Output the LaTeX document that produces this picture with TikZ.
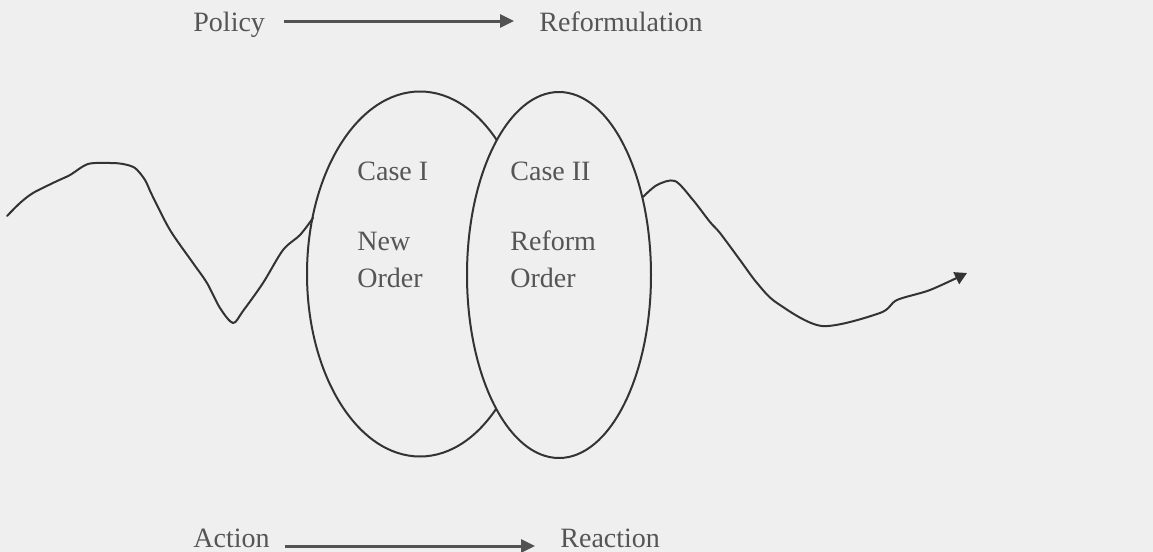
\documentclass[tikz,border=0pt]{standalone}
\usepackage{fontspec}
\setmainfont{Liberation Serif}
\usetikzlibrary{shapes.geometric,arrows.meta}
\definecolor{bg}{HTML}{EFEFEF}
\definecolor{ink}{HTML}{333333}
\definecolor{txt}{HTML}{555555}
\tikzset{
  lbl/.style={inner sep=0pt, text=txt, font=\fontsize{14}{18.5}\selectfont, text height=10pt, text depth=3pt},
  arr/.style={draw=ink!85, line width=1.5pt, -{Triangle[length=7pt,width=6.5pt]}},
  oval/.style={draw=ink, line width=1pt, ellipse, inner sep=0pt, fill=bg},
  wave/.style={draw=ink, line width=1pt, line join=round, line cap=round}
}
\begin{document}
\begin{tikzpicture}[x=0.5pt,y=-0.5pt]
\fill[bg] (0,0) rectangle (1153,552);
\useasboundingbox (0,0) rectangle (1153,552);

% top arrow
\node[lbl, anchor=base west] (policy) at (193,31) {Policy};
\node[lbl, anchor=base west] (reform) at (539,31) {Reformulation};
\draw[arr, shorten <=9.5pt, shorten >=12.5pt] ([yshift=1.5pt]policy.east) -- ([yshift=1.5pt]reform.west);

% ellipses (the second one covers the first)
\node[oval, minimum width=113pt, minimum height=182.5pt] (e1) at (420,274) {};
\node[oval, minimum width=92pt, minimum height=183pt] (e2) at (559,275) {};

% texts inside
\node[lbl, anchor=base west] (case1) at (357,180) {Case I};
\node[lbl, anchor=base west] (case2) at (510,180) {Case II};
\node[lbl, anchor=base west] (new) at (357,250) {New};
\node[lbl, anchor=base west] (order1) at (357,287) {Order};
\node[lbl, anchor=base west] (refo) at (510,250) {Reform};
\node[lbl, anchor=base west] (order2) at (510,287) {Order};

% left wave
\draw[wave] plot[smooth, tension=0.5] coordinates {
 (7,216) (20,203) (33,193) (55,182) (70,175) (88,164) (110,163) (123,164) (135,168) (145,180)
 (152,195) (170,230) (193,263) (207,283) (220,308) (233,323) (243,311) (263,283)
 (283,250) (300,235) (313,218)};

% right wave
\draw[wave, -{Triangle[length=6pt,width=6.5pt]}] plot[smooth, tension=0.5] coordinates {
 (643,197) (657,185) (675,181) (693,200) (710,222) (720,233) (740,260) (757,283)
 (777,303) (822,326) (880,313) (897,300) (930,290) (967,273)};

% bottom arrow
\node[lbl, anchor=base west] (action) at (193,547) {Action};
\node[lbl, anchor=base west] (reaction) at (560,547) {Reaction};
\draw[arr, shorten <=7.5pt, shorten >=12.5pt] ([yshift=-3pt]action.east) -- ([yshift=-3pt]reaction.west);
\end{tikzpicture}
\end{document}
